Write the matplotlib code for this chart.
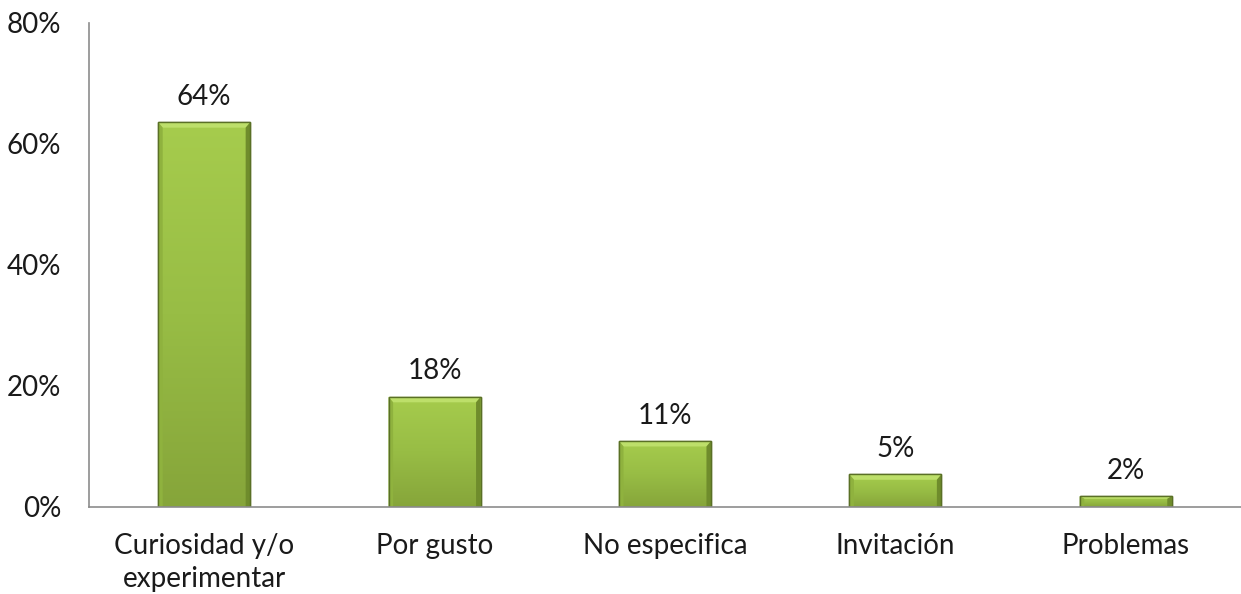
import numpy as np
import matplotlib.pyplot as plt
from matplotlib.colors import LinearSegmentedColormap

plt.rcParams['font.family'] = ['Lato', 'DejaVu Sans']

categorias = ['Curiosidad y/o\nexperimentar', 'Por gusto', 'No especifica', 'Invitación', 'Problemas']
porcentajes = [63.6, 18.2, 10.9, 5.4, 1.8]
yticks = [0, 20, 40, 60, 80]

fig = plt.figure(figsize=(12.41, 5.94), dpi=100)
ax = fig.add_axes([0.0717, 0.1465, 0.9283, 0.8148])

x = np.arange(len(categorias))
ancho = 0.40
barras = ax.bar(x, porcentajes, width=ancho, color='#9bc243', edgecolor='#5a7026',
                linewidth=1.0, zorder=2)

# relleno degradado (claro arriba, más oscuro abajo) con bisel en los bordes
cmap = LinearSegmentedColormap.from_list('verde', ['#86a53a', '#98bd45', '#a6cc4d'])
for b in barras:
    x0, y0 = b.get_x(), b.get_y()
    w, h = b.get_width(), b.get_height()
    grad = np.linspace(0, 1, 256).reshape(-1, 1)
    im = ax.imshow(grad, cmap=cmap, aspect='auto', origin='lower',
                   extent=(x0, x0 + w, y0, y0 + h), zorder=2.1)
    im.set_clip_path(b)
    # bisel superior claro
    bev = min(0.9, h * 0.25)
    ax.fill([x0, x0 + w, x0 + w - 0.02, x0 + 0.02], [y0 + h, y0 + h, y0 + h - bev, y0 + h - bev],
            color='#bddf6a', lw=0, zorder=2.2)
    # bordes laterales sombreados
    ax.fill([x0 + w, x0 + w, x0 + w - 0.02, x0 + w - 0.02], [y0, y0 + h, y0 + h - bev, y0],
            color='#6f8c2c', lw=0, zorder=2.2)
    ax.fill([x0, x0, x0 + 0.02, x0 + 0.02], [y0, y0 + h, y0 + h - bev, y0],
            color='#8fb23e', lw=0, zorder=2.2)
    ax.add_patch(plt.Rectangle((x0, y0), w, h, fill=False, ec='#5a7026', lw=1.0, zorder=2.3))

for xi, v in zip(x, porcentajes):
    ax.annotate(f'{v:.0f}%', (xi, v), xytext=(0, 9), textcoords='offset points',
                ha='center', va='bottom', fontsize=20, color='#1a1a1a')

ax.set_xlim(-0.5, len(categorias) - 0.5)
ax.set_ylim(0, 80)
ax.set_yticks(yticks)
ax.set_yticklabels([f'{t}%' for t in yticks], fontsize=20, color='#1a1a1a')
ax.set_xticks(x)
ax.set_xticklabels(categorias, fontsize=20, color='#1a1a1a', linespacing=1.3)
ax.tick_params(axis='both', length=0)
ax.tick_params(axis='y', pad=20)
ax.tick_params(axis='x', pad=19)

for s in ['top', 'right']:
    ax.spines[s].set_visible(False)
for s in ['left', 'bottom']:
    ax.spines[s].set_color('#8c8c8c')
    ax.spines[s].set_linewidth(1.2)

fig.savefig('out.png', dpi=100)
